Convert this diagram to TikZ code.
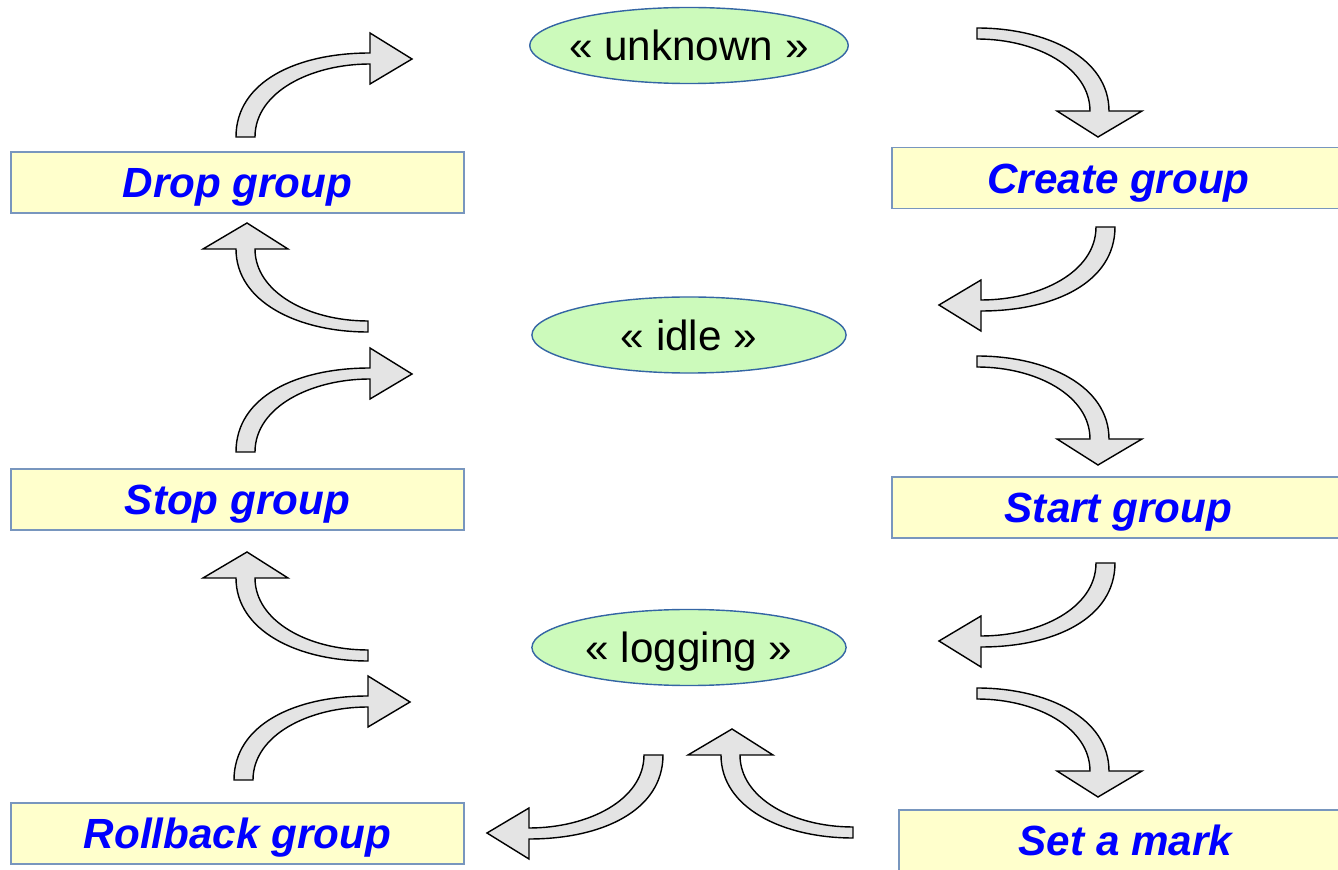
\documentclass[tikz,border=0pt]{standalone}
\usepackage{fontspec}
\setmainfont{Liberation Sans}
\usetikzlibrary{shapes.geometric}

\definecolor{actionfill}{HTML}{FFFFCC}
\definecolor{actionline}{HTML}{7896BE}
\definecolor{statefill}{HTML}{CCFABB}
\definecolor{stateline}{HTML}{3465A4}
\definecolor{arrowfill}{HTML}{E4E4E4}

\tikzset{
  action/.style={draw=actionline, fill=actionfill, line width=0.5pt,
    minimum width=4.53cm, minimum height=0.61cm, inner sep=0pt,
    text=blue, font=\fontsize{12}{14}\selectfont\bfseries\itshape,
    text height=8.6pt, text depth=0pt},
  state/.style={ellipse, draw=stateline, fill=statefill, line width=0.4pt,
    minimum width=3.14cm, minimum height=0.76cm, inner xsep=-2pt, inner ysep=0pt,
    font=\fontsize{12}{14}\selectfont, text height=8.6pt, text depth=0pt},
  blockarrow/.style={draw=black, fill=arrowfill, line width=0.4pt},
  % tail below, head to the right
  upright/.pic={
    \path[blockarrow] (0,0) .. controls (0,55) and (60,84) .. (134,84)
      -- (134,104) -- (176,78) -- (134,53) -- (134,73)
      .. controls (75,73) and (19,45) .. (19,0) -- cycle;
  },
  % tail to the right, head up
  leftup/.pic={
    \path[blockarrow] (0,0) .. controls (-70,0) and (-132,30) .. (-132,83)
      -- (-165,83) -- (-121,109) -- (-80,83) -- (-113,83)
      .. controls (-113,40) and (-60,11) .. (0,11) -- cycle;
  }
}

\begin{document}
\begin{tikzpicture}[x=0.01cm, y=0.01cm]
    \useasboundingbox (0,0) rectangle (1338,-870);

    % states
    \node[state] (unknown) at (689,-45.5) {« unknown »};
    \node[state] (idle) at (689,-335) {« idle »};
    \node[state] (logging) at (689,-647.5) {« logging »};

    % actions
    \node[action] (drop) at (237.5,-182.5) {Drop group};
    \node[action] (stop) at (237.5,-499.5) {Stop group};
    \node[action] (rollback) at (237.5,-833.5) {Rollback group};
    \node[action] (create) at (1118.5,-178) {Create group};
    \node[action] (start) at (1118.5,-507.5) {Start group};
    \node[action] (mark) at (1125.5,-840.5) {Set a mark};

    % left column
    \pic at (236,-137) {upright};
    \pic at (368,-332) {leftup};
    \pic at (236,-452) {upright};
    \pic at (368,-661) {leftup};
    \pic at (234,-780) {upright};

    % right column
    \pic[rotate=180] at (977,-28) {leftup};
    \pic[rotate=180] at (1115,-227) {upright};
    \pic[rotate=180] at (977,-356) {leftup};
    \pic[rotate=180] at (1115,-563) {upright};
    \pic[rotate=180] at (977,-688) {leftup};

    % around logging
    \pic[rotate=180] at (663,-755) {upright};
    \pic at (853,-838) {leftup};
\end{tikzpicture}
\end{document}
